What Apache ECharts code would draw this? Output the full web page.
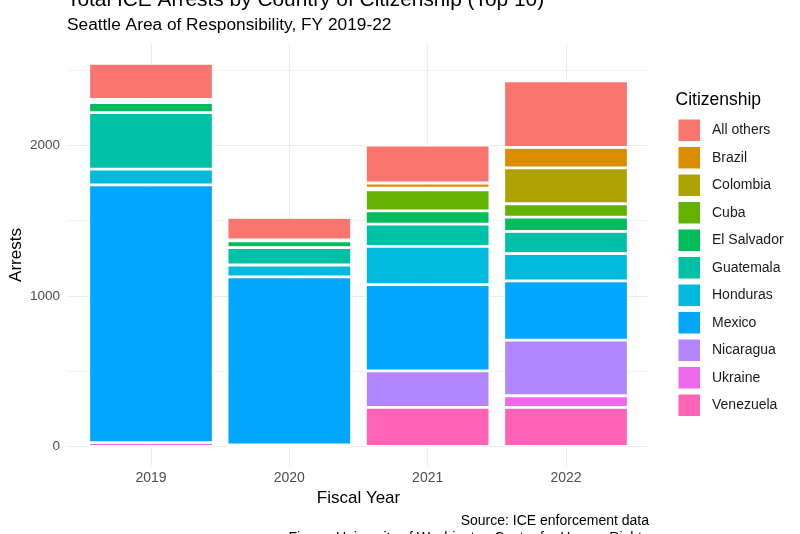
<!DOCTYPE html>
<html>
<head>
<meta charset="utf-8">
<script src="https://cdn.jsdelivr.net/npm/echarts@6/dist/echarts.min.js"></script>
<style>
html,body{margin:0;padding:0;background:#fff;}
#chart{width:800px;height:534px;}
</style>
</head>
<body>
<div id="chart"></div>
<script>
// ---- Data ----
const years = ['2019', '2020', '2021', '2022'];
const citizenship = ['All others', 'Brazil', 'Colombia', 'Cuba', 'El Salvador', 'Guatemala', 'Honduras', 'Mexico', 'Nicaragua', 'Ukraine', 'Venezuela'];
const allOthers  = [240, 150, 252, 442];
const brazil     = [0, 0, 35, 135];
const colombia   = [0, 0, 10, 239];
const cuba       = [20, 5, 140, 89];
const elSalvador = [67, 45, 88, 95];
const guatemala  = [376, 116, 148, 147];
const honduras   = [104, 79, 254, 182];
const mexico     = [1714, 1117, 574, 394];
const nicaragua  = [0, 0, 242, 369];
const ukraine    = [25, 10, 0, 78];
const venezuela  = [0, 0, 260, 259];
const yMajorTicks = [0, 1000, 2000];
const yMinorTicks = [500, 1500, 2500];

const valuesByName = {
  'All others': allOthers, 'Brazil': brazil, 'Colombia': colombia, 'Cuba': cuba,
  'El Salvador': elSalvador, 'Guatemala': guatemala, 'Honduras': honduras,
  'Mexico': mexico, 'Nicaragua': nicaragua, 'Ukraine': ukraine, 'Venezuela': venezuela
};
const colors = {
  'All others': '#F8766D', 'Brazil': '#DB8E00', 'Colombia': '#AEA200', 'Cuba': '#64B200',
  'El Salvador': '#00BD5C', 'Guatemala': '#00C1A7', 'Honduras': '#00BADE',
  'Mexico': '#00A6FF', 'Nicaragua': '#B385FF', 'Ukraine': '#EF67EB', 'Venezuela': '#FF63B6'
};

// ---- Layout ----
const W = 800, H = 534;
const panelLeft = 68, panelRight = 649, panelTop = 44.2, panelBottom = 68.4;
const catExpand = 0.6;
const totals = years.map((_, i) => citizenship.reduce((s, c) => s + valuesByName[c][i], 0));
const maxTotal = Math.max.apply(null, totals);
const yMin = -0.05 * maxTotal, yMax = 1.05 * maxTotal;
const xMin = -catExpand, xMax = years.length - 1 + catExpand;
const unitPx = (panelRight - panelLeft) / (xMax - xMin);
const inset = (catExpand - 0.5) * unitPx;
const font = '"Liberation Sans", Arial, sans-serif';

// stacking: bottom first (reverse of legend order)
const stackOrder = citizenship.slice().reverse();
const series = stackOrder.map(name => ({
  name: name,
  type: 'bar',
  stack: 'total',
  xAxisIndex: 1,
  yAxisIndex: 2,
  barWidth: '90%',
  itemStyle: { color: colors[name], borderColor: '#ffffff', borderWidth: 1.4 },
  emphasis: { disabled: true },
  data: valuesByName[name]
}));

const chart = echarts.init(document.getElementById('chart'), null, { renderer: 'canvas', width: W, height: H });
chart.setOption({
  animation: false,
  backgroundColor: '#ffffff',
  textStyle: { fontFamily: font },
  grid: [{
    left: panelLeft, right: W - panelRight, top: panelTop, bottom: panelBottom,
    containLabel: false, outerBoundsMode: 'none'
  }, {
    left: panelLeft + inset, right: W - panelRight + inset, top: panelTop, bottom: panelBottom,
    containLabel: false, outerBoundsMode: 'none'
  }],
  xAxis: [{
    type: 'value', gridIndex: 0, min: xMin, max: xMax,
    axisLine: { show: false },
    axisTick: { show: false, customValues: years.map((_, i) => i) },
    axisLabel: {
      customValues: years.map((_, i) => i),
      formatter: v => years[Math.round(v)],
      color: '#4D4D4D', fontSize: 14, margin: 6, fontFamily: font
    },
    splitLine: { show: true, lineStyle: { color: '#EBEBEB', width: 1.1 } }
  }, {
    type: 'category', gridIndex: 1, data: years,
    axisLine: { show: false }, axisTick: { show: false }, axisLabel: { show: false },
    splitLine: { show: false }
  }],
  yAxis: [{
    type: 'value', gridIndex: 0, min: yMin, max: yMax,
    axisLine: { show: false },
    axisTick: { show: false, customValues: yMajorTicks },
    axisLabel: { customValues: yMajorTicks, formatter: v => String(v), color: '#4D4D4D', fontSize: 13.5, margin: 8, fontFamily: font },
    splitLine: { show: true, lineStyle: { color: '#EBEBEB', width: 1.1 } }
  }, {
    type: 'value', gridIndex: 0, min: yMin, max: yMax, position: 'left',
    axisLine: { show: false },
    axisTick: { show: false, customValues: yMinorTicks },
    axisLabel: { show: false },
    splitLine: { show: true, lineStyle: { color: '#EBEBEB', width: 0.6 } }
  }, {
    type: 'value', gridIndex: 1, min: yMin, max: yMax,
    axisLine: { show: false }, axisTick: { show: false }, axisLabel: { show: false },
    splitLine: { show: false }
  }],
  legend: {
    orient: 'vertical', left: 676.5, top: 117.5,
    itemWidth: 23.5, itemHeight: 23.5, itemGap: 2, padding: 0,
    icon: 'rect', selectedMode: false,
    data: citizenship,
    textStyle: { fontSize: 14, color: '#1A1A1A', fontFamily: font, padding: [0, 0, 0, 6] }
  },
  graphic: [
    { type: 'text', x: 67, y: 0, style: { text: 'Total ICE Arrests by Country of Citizenship (Top 10)', font: '20.9px ' + font, fill: '#000', align: 'left', verticalAlign: 'middle' } },
    { type: 'text', x: 67, y: 25.5, style: { text: 'Seattle Area of Responsibility, FY 2019-22', font: '17.3px ' + font, fill: '#000', align: 'left', verticalAlign: 'middle' } },
    { type: 'text', x: 675.5, y: 100.5, style: { text: 'Citizenship', font: '17.5px ' + font, fill: '#000', align: 'left', verticalAlign: 'middle' } },
    { type: 'text', x: (panelLeft + panelRight) / 2, y: 498, style: { text: 'Fiscal Year', font: '17px ' + font, fill: '#000', align: 'center', verticalAlign: 'middle' } },
    { type: 'text', x: 16.7, y: 255, rotation: Math.PI / 2, style: { text: 'Arrests', font: '17px ' + font, fill: '#000', align: 'center', verticalAlign: 'middle' } },
    { type: 'text', x: panelRight, y: 520.8, style: { text: 'Source: ICE enforcement data', font: '14px ' + font, fill: '#000', align: 'right', verticalAlign: 'middle' } },
    { type: 'text', x: panelRight, y: 538, style: { text: 'Figure: University of Washington Center for Human Rights', font: '14px ' + font, fill: '#000', align: 'right', verticalAlign: 'middle' } }
  ],
  series: series
});
</script>
</body>
</html>
